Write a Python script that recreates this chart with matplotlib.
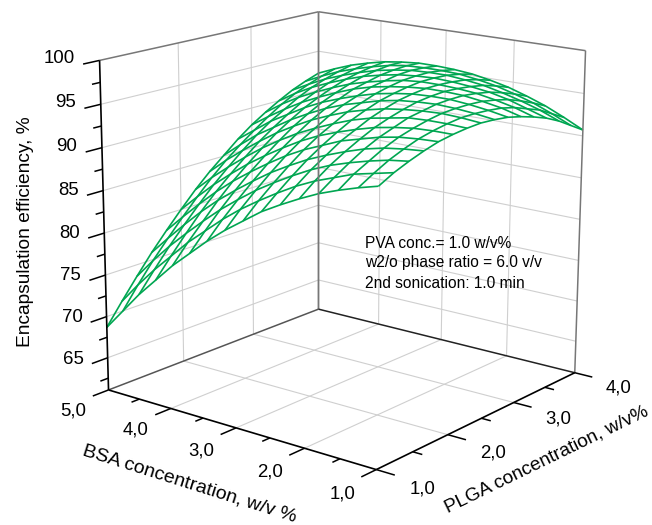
import numpy as np
import matplotlib
matplotlib.use('Agg')
import matplotlib.pyplot as plt
from mpl_toolkits.mplot3d import proj3d

plt.rcParams['font.family'] = ['Liberation Sans', 'DejaVu Sans']

plga = [1.0, 1.2, 1.4, 1.6, 1.8, 2.0, 2.2, 2.4, 2.6, 2.8, 3.0, 3.2, 3.4, 3.6, 3.8, 4.0]
bsa = [1.0, 1.267, 1.533, 1.8, 2.067, 2.333, 2.6, 2.867, 3.133, 3.4, 3.667, 3.933, 4.2, 4.467, 4.733, 5.0]

# encapsulation efficiency, one row per bsa level
efficiency = [
    [92.0, 92.9, 93.6, 94.2, 94.7, 95.0, 95.2, 95.3, 95.2, 95.0, 94.6, 94.1, 93.5, 92.7, 91.7, 90.7],
    [91.4, 92.4, 93.3, 94.0, 94.6, 95.0, 95.3, 95.5, 95.5, 95.4, 95.2, 94.8, 94.2, 93.6, 92.7, 91.8],
    [90.7, 91.9, 92.8, 93.7, 94.4, 94.9, 95.3, 95.6, 95.7, 95.7, 95.6, 95.3, 94.9, 94.3, 93.6, 92.8],
    [89.9, 91.1, 92.2, 93.2, 94.0, 94.6, 95.2, 95.5, 95.8, 95.9, 95.9, 95.7, 95.4, 94.9, 94.3, 93.6],
    [88.9, 90.3, 91.5, 92.5, 93.4, 94.2, 94.8, 95.3, 95.7, 95.9, 96.0, 95.9, 95.7, 95.4, 94.9, 94.3],
    [87.8, 89.3, 90.6, 91.7, 92.8, 93.6, 94.4, 95.0, 95.5, 95.8, 96.0, 96.0, 95.9, 95.7, 95.3, 94.8],
    [86.6, 88.1, 89.5, 90.8, 91.9, 92.9, 93.8, 94.5, 95.1, 95.5, 95.8, 96.0, 96.0, 95.9, 95.6, 95.2],
    [85.1, 86.8, 88.3, 89.7, 91.0, 92.1, 93.0, 93.9, 94.5, 95.1, 95.5, 95.8, 95.9, 95.9, 95.7, 95.4],
    [83.6, 85.4, 87.0, 88.5, 89.9, 91.1, 92.1, 93.1, 93.9, 94.5, 95.1, 95.4, 95.7, 95.8, 95.7, 95.5],
    [81.9, 83.8, 85.5, 87.1, 88.6, 89.9, 91.1, 92.2, 93.1, 93.8, 94.5, 94.9, 95.3, 95.5, 95.6, 95.5],
    [80.0, 82.0, 83.9, 85.6, 87.2, 88.6, 89.9, 91.1, 92.1, 93.0, 93.7, 94.3, 94.8, 95.1, 95.3, 95.3],
    [78.1, 80.2, 82.1, 84.0, 85.7, 87.2, 88.6, 89.9, 91.0, 92.0, 92.8, 93.5, 94.1, 94.5, 94.8, 95.0],
    [75.9, 78.1, 80.2, 82.2, 84.0, 85.6, 87.1, 88.5, 89.7, 90.8, 91.8, 92.6, 93.3, 93.8, 94.2, 94.5],
    [73.7, 76.0, 78.2, 80.2, 82.1, 83.9, 85.5, 87.0, 88.4, 89.6, 90.6, 91.6, 92.4, 93.0, 93.5, 93.9],
    [71.2, 73.7, 76.0, 78.1, 80.1, 82.0, 83.8, 85.4, 86.8, 88.1, 89.3, 90.4, 91.3, 92.0, 92.6, 93.1],
    [68.7, 71.2, 73.6, 75.9, 78.0, 80.0, 81.9, 83.6, 85.1, 86.6, 87.9, 89.0, 90.0, 90.9, 91.6, 92.2],
]

z_ticks = [65, 70, 75, 80, 85, 90, 95, 100]
z_minor = [62.5, 67.5, 72.5, 77.5, 82.5, 87.5, 92.5, 97.5]
bsa_ticks = [1, 2, 3, 4, 5]
plga_ticks = [1, 2, 3, 4]
z_floor = 61.05

GRID = '#cfcfcf'
FRAME = '#777777'
GREEN = '#00a651'

W, H = 652, 525
S = 569.374
fig = plt.figure(figsize=(W/100, H/100), dpi=100)
ax = fig.add_subplot(projection='3d', computed_zorder=False)
ax.set_position([52.644/W, 1-(-55.268+S)/H, S/W, S/H])
ax.set_axis_off()


def seg(p, b, z, **kw):
    ax.plot(p, b, z, solid_capstyle='butt', **kw)


def label3d(p, b, z, s, **kw):
    # flat text placed at the projected position of a data point
    x2, y2, _ = proj3d.proj_transform(p, b, z, ax.get_proj())
    ax.text2D(x2, y2, s, transform=ax.transData, fontsize=13.4, va='center', **kw)


# grid on the two walls and the floor
for z in z_ticks[:-1]:
    seg([1, 4], [5, 5], [z, z], color=GRID, lw=0.8, zorder=1)
    seg([4, 4], [5, 1], [z, z], color=GRID, lw=0.8, zorder=1)
for p in [2, 3]:
    seg([p, p], [5, 5], [z_floor, 100], color=GRID, lw=0.8, zorder=1)
    seg([p, p], [1, 5], [z_floor, z_floor], color=GRID, lw=0.8, zorder=1)
for b in [2, 3, 4]:
    seg([4, 4], [b, b], [z_floor, 100], color=GRID, lw=0.8, zorder=1)
    seg([1, 4], [b, b], [z_floor, z_floor], color=GRID, lw=0.8, zorder=1)

P, B = np.meshgrid(plga, bsa)
ax.plot_wireframe(P, B, np.array(efficiency), color=GREEN, lw=1.2, zorder=2)

# walls and axes
seg([1, 4], [5, 5], [100, 100], color=FRAME, lw=1.1, zorder=3)
seg([4, 4], [5, 1], [100, 100], color=FRAME, lw=1.1, zorder=3)
seg([4, 4], [5, 5], [z_floor, 100], color=FRAME, lw=1.3, zorder=3)
seg([4, 4], [1, 1], [z_floor, 100], color=FRAME, lw=1.1, zorder=3)
seg([1, 4], [5, 5], [z_floor, z_floor], color='#555555', lw=1.1, zorder=3)
seg([4, 4], [5, 1], [z_floor, z_floor], color='#222222', lw=1.1, zorder=3)
seg([1, 1], [5, 5], [z_floor, 100], color='black', lw=1.2, zorder=4)
seg([1, 1], [1, 5], [z_floor, z_floor], color='black', lw=1.2, zorder=4)
seg([1, 4], [1, 1], [z_floor, z_floor], color='black', lw=1.2, zorder=4)

# tick marks
for z in z_ticks:
    seg([0.8, 1], [5, 5], [z, z], color='black', lw=1.1, zorder=4)
for z in z_minor:
    seg([0.9, 1], [5, 5], [z, z], color='black', lw=1.1, zorder=4)
for b in bsa_ticks:
    seg([0.8, 1], [b, b], [z_floor, z_floor], color='black', lw=1.1, zorder=4)
    if b < 5:
        seg([0.9, 1], [b+0.5, b+0.5], [z_floor, z_floor], color='black', lw=1.1, zorder=4)
for p in plga_ticks:
    seg([p, p], [0.75, 1], [z_floor, z_floor], color='black', lw=1.1, zorder=4)
    if p < 4:
        seg([p+0.5, p+0.5], [0.87, 1], [z_floor, z_floor], color='black', lw=1.1, zorder=4)

ax.view_init(15.722, -141.927, -0.203)
ax.set_proj_type('persp', focal_length=0.718)
ax.set_box_aspect((0.999, 1.004, 1))
ax.set_xlim(1, 4, view_margin=0)
ax.set_ylim(1, 5, view_margin=0)
ax.set_zlim(z_floor, 100, view_margin=0)

# tick labels, after the view is set
for z in z_ticks:
    label3d(0.7, 5, z+0.85, str(z), ha='right')
for b in bsa_ticks:
    label3d(0.55, b, z_floor-0.9, f'{b},0', ha='center')
for p in plga_ticks:
    label3d(p, 0.38, z_floor-0.6, f'{p},0', ha='center')


def ptext(x, y, s, **kw):
    fig.text(x/W, 1-y/H, s, **kw)


ptext(26, 232, 'Encapsulation efficiency, %', rotation=90, ha='center', va='center', fontsize=13.8)
ptext(190, 484, 'BSA concentration, w/v %', rotation=-17.5, rotation_mode='anchor', ha='center', va='center', fontsize=14)
ptext(547, 460, 'PLGA concentration, w/v%', rotation=26, rotation_mode='anchor', ha='center', va='center', fontsize=13.7)
ptext(365, 243, 'PVA conc.= 1.0 w/v%', va='center', fontsize=11.2)
ptext(365, 263, 'w2/o phase ratio = 6.0 v/v', va='center', fontsize=11.2)
ptext(365, 283, '2nd sonication: 1.0 min', va='center', fontsize=11.2)

fig.savefig('out.png', dpi=100)
